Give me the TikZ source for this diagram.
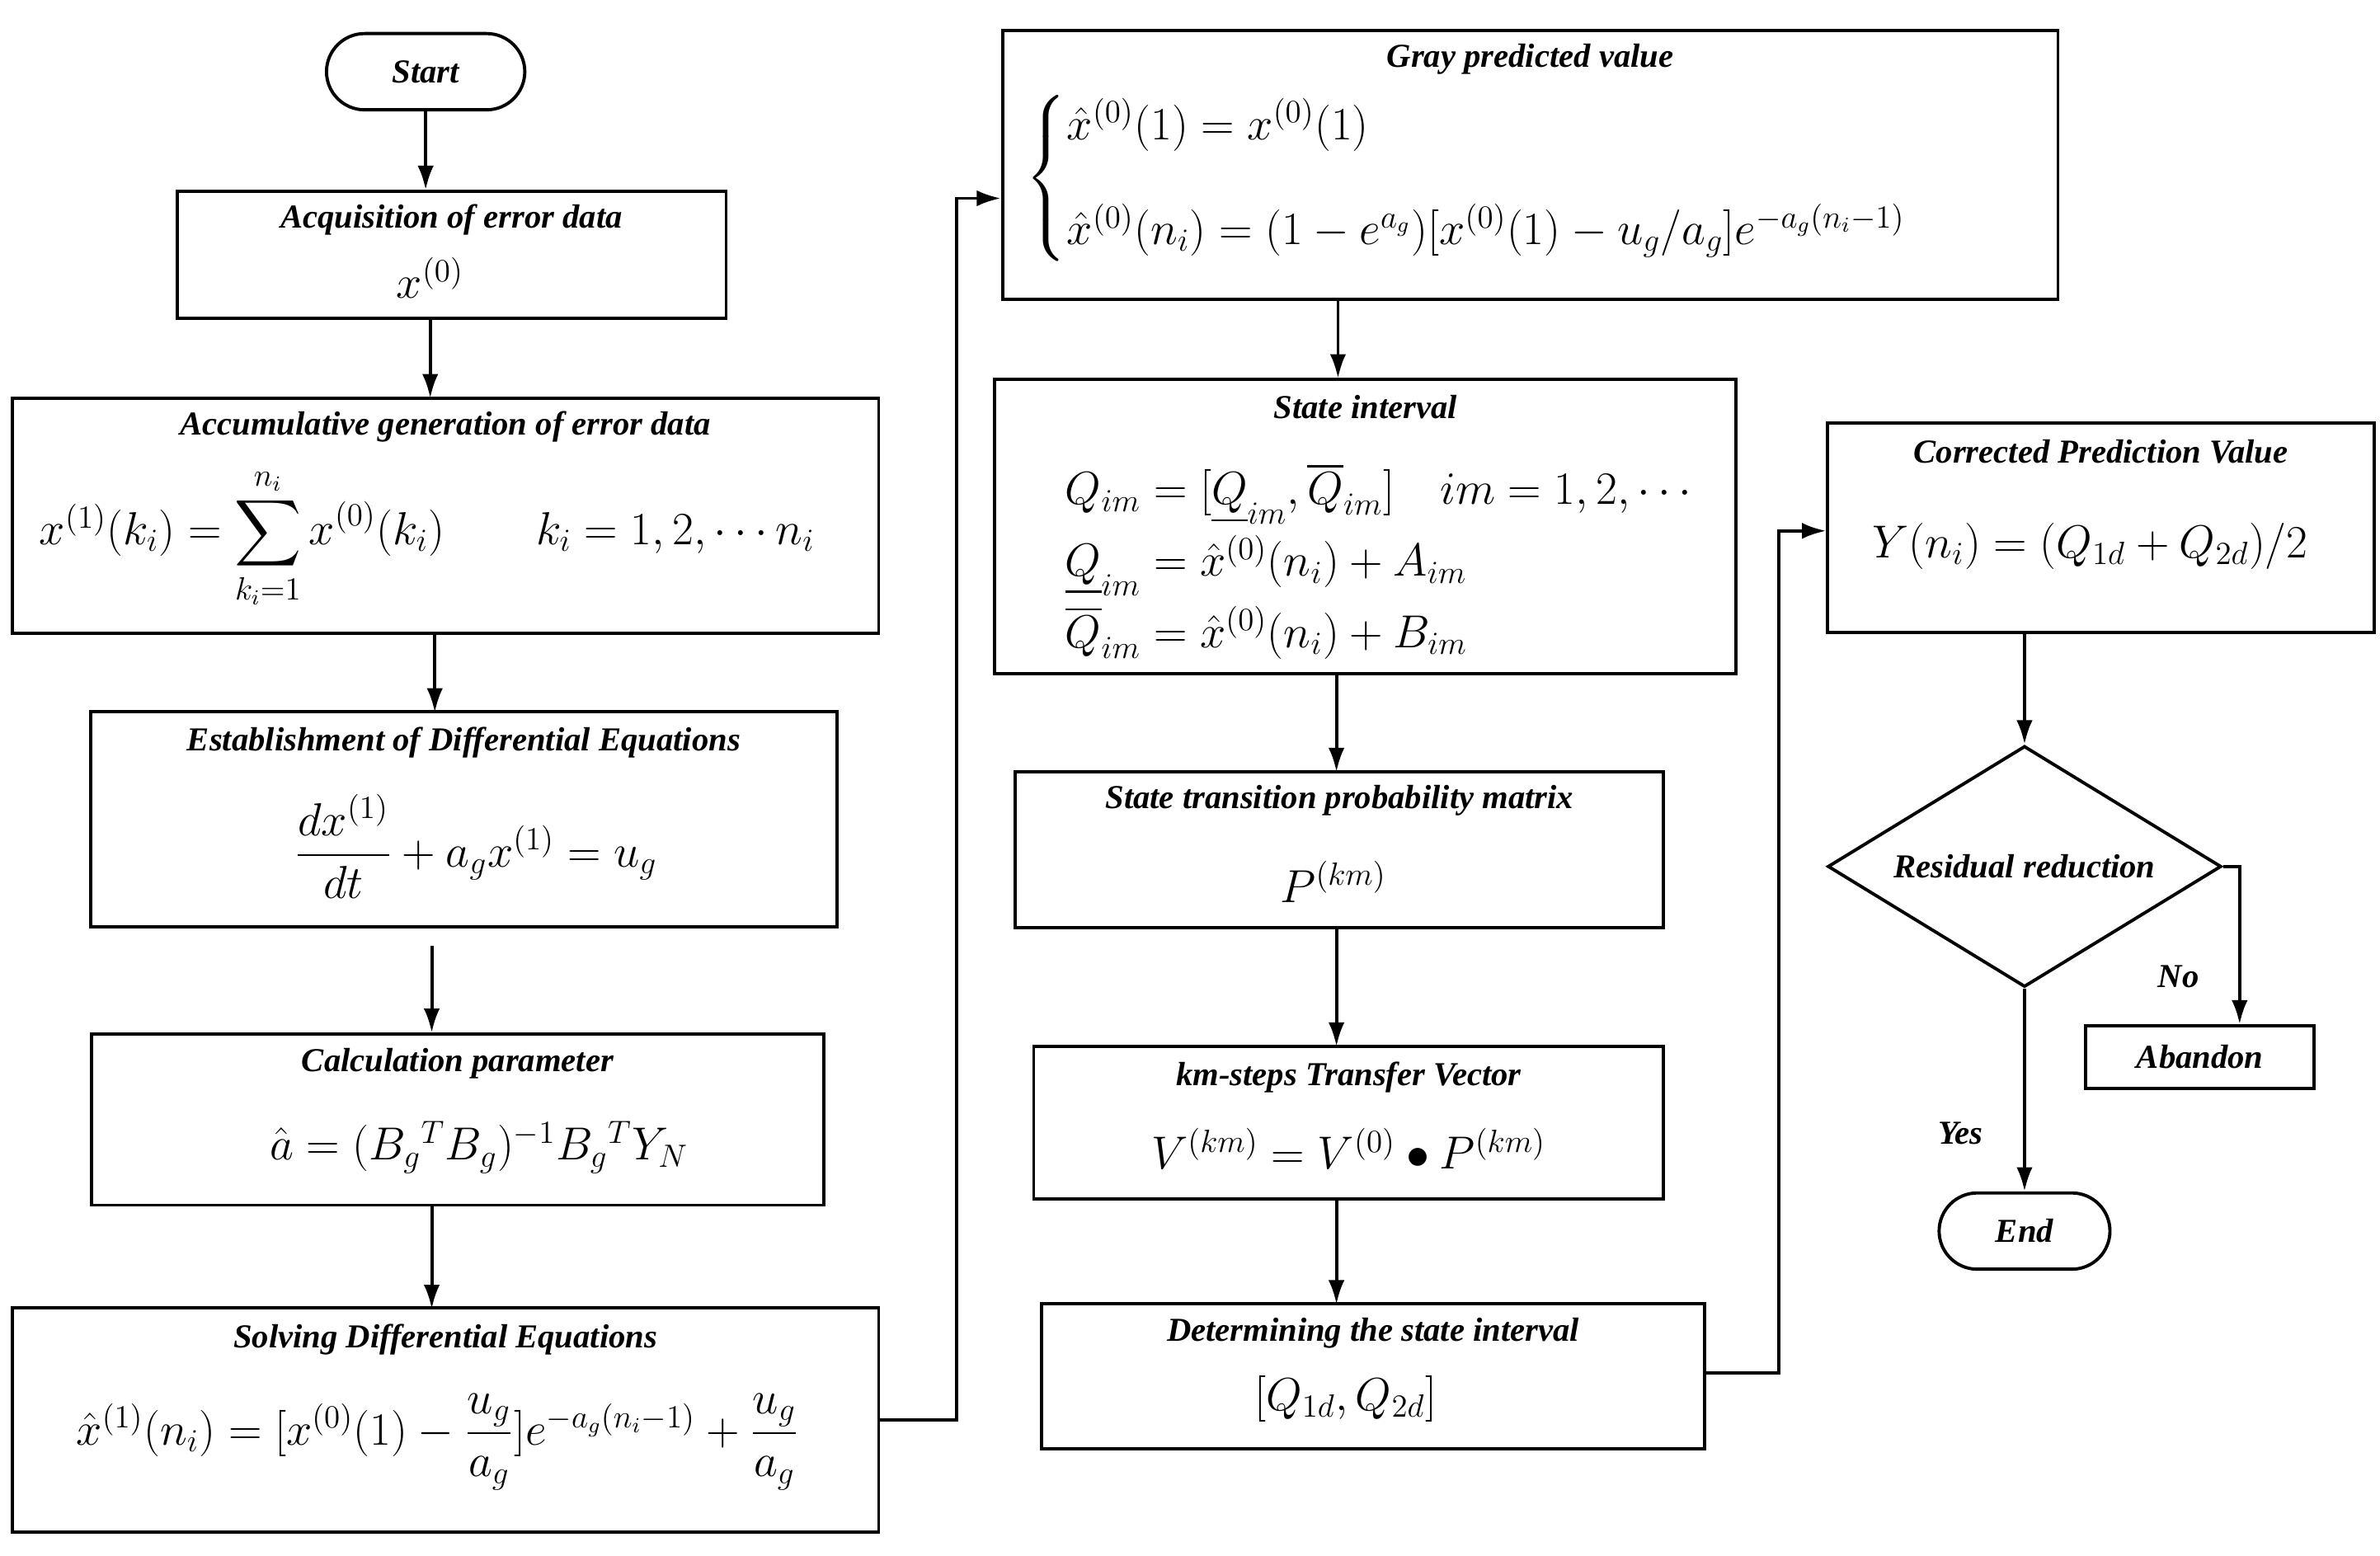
\documentclass[tikz,border=0pt]{standalone}
\usepackage{amsmath}
\usepackage{fontspec}
\setmainfont{Liberation Serif}
\usetikzlibrary{arrows.meta,shapes.geometric}

\begin{document}
\begin{tikzpicture}[x=0.02cm, y=-0.02cm,
  every node/.style={align=center, inner sep=0pt, font=\fontsize{12.5}{15}\selectfont\bfseries\itshape},
  box/.style={draw, line width=1.2pt},
  term/.style={draw, line width=1.2pt, rounded corners=0.5cm},
  mth/.style={font=\fontsize{17}{21}\selectfont},
  link/.style={draw, line width=1.2pt, -{Latex[length=9pt,width=6pt]}}]
\useasboundingbox (0,0) rectangle (1560,1020);

% left column
\node[term, minimum width=2.6cm, minimum height=1cm] (start) at (279,47) {Start};
\node[box, minimum width=7.2cm, minimum height=1.66cm] (acq) at (296,167) {};
\node (acqt) at (296,144) {Acquisition of error data};
\node[mth] (acqm) at (282,182) {$x^{(0)}$};

\node[box, minimum width=11.36cm, minimum height=3.08cm] (acc) at (292,338) {};
\node (acct) at (292,280) {Accumulative generation of error data};
\node[mth] (accm) at (280,353) {$x^{(1)}(k_i)=\displaystyle\sum_{k_i=1}^{n_i}x^{(0)}(k_i)\qquad k_i=1,2,\cdots n_i$};

\node[box, minimum width=9.78cm, minimum height=2.82cm] (est) at (304,537) {};
\node (estt) at (304,487) {Establishment of Differential Equations};
\node[mth] (estm) at (312,555) {$\dfrac{dx^{(1)}}{dt}+a_gx^{(1)}=u_g$};

\node[box, minimum width=9.6cm, minimum height=2.24cm] (cal) at (300,734) {};
\node (calt) at (300,697) {Calculation parameter};
\node[mth] (calm) at (314,752) {$\hat{a}=(B_g{}^TB_g)^{-1}B_g{}^TY_N$};

\node[box, minimum width=11.36cm, minimum height=2.94cm] (sol) at (292,931) {};
\node (solt) at (292,878) {Solving Differential Equations};
\node[mth] (solm) at (287,945) {$\hat{x}^{(1)}(n_i)=[x^{(0)}(1)-\dfrac{u_g}{a_g}]e^{-a_g(n_i-1)}+\dfrac{u_g}{a_g}$};

% middle column
\node[box, minimum width=13.84cm, minimum height=3.52cm] (gray) at (1003,108) {};
\node (grayt) at (1003,39) {Gray predicted value};
\node[mth, anchor=west] (graym) at (672,117) {$\begin{cases}\hat{x}^{(0)}(1)=x^{(0)}(1)\\[14pt]\hat{x}^{(0)}(n_i)=(1-e^{a_g})[x^{(0)}(1)-u_g/a_g]e^{-a_g(n_i-1)}\end{cases}$};

\node[box, minimum width=9.72cm, minimum height=3.86cm] (sta) at (895,345) {};
\node (stat) at (895,267) {State interval};
\node[mth, anchor=west, align=left] (stam) at (698,368) {$Q_{im}=[\underline{Q}_{im},\overline{Q}_{im}]\quad im=1,2,\cdots$\\[3pt]
  $\underline{Q}_{im}=\hat{x}^{(0)}(n_i)+A_{im}$\\[3pt]
  $\overline{Q}_{im}=\hat{x}^{(0)}(n_i)+B_{im}$};

\node[box, minimum width=8.5cm, minimum height=2.04cm] (stp) at (878,557) {};
\node (stpt) at (878,525) {State transition probability matrix};
\node[mth] (stpm) at (874,578) {$P^{(km)}$};

\node[box, minimum width=8.26cm, minimum height=2cm] (km) at (884,736) {};
\node (kmt) at (884,706) {km-steps Transfer Vector};
\node[mth] (kmm) at (884,753) {$V^{(km)}=V^{(0)}\bullet P^{(km)}$};

\node[box, minimum width=8.7cm, minimum height=1.9cm] (det) at (900,902) {};
\node (dett) at (900,874) {Determining the state interval};
\node[mth] (detm) at (882,917) {$[Q_{1d},Q_{2d}]$};

% right column
\node[box, minimum width=7.16cm, minimum height=2.74cm] (cor) at (1377,346) {};
\node (cort) at (1377,296) {Corrected Prediction Value};
\node[mth] (corm) at (1370,358) {$Y(n_i)=(Q_{1d}+Q_{2d})/2$};

\node[draw, line width=1.2pt, diamond, minimum width=5.16cm, minimum height=3.16cm] (res) at (1327,568) {};
\node (rest) at (1327,568) {Residual reduction};
\node[box, minimum width=3cm, minimum height=0.82cm] (aba) at (1442,693) {Abandon};
\node[term, minimum width=2.24cm, minimum height=1cm] (end) at (1327,807) {End};

% connectors
\draw[link] (start.south) -- (start.south|-acq.north);
\draw[link] (acq.south-|282,0) -- (282,261);
\draw[link] (acc.south-|285,0) -- (285,467);
\draw[link] (283,620) -- (cal.north-|283,0);
\draw[link] (cal.south-|283,0) -- (283,858);
\draw[link] (sol.east|-0,931) -- (627,931) -- (627,130) -- (gray.west|-0,130);
\draw[link] (gray.south-|877,0) -- (877,248);
\draw[link] (sta.south-|876,0) -- (876,506);
\draw[link] (stp.south-|876,0) -- (876,686);
\draw[link] (km.south-|876,0) -- (876,855);
\draw[link] (det.east|-0,900) -- (1166,900) -- (1166,348) -- (cor.west|-0,348);
\draw[link] (cor.south-|res.north) -- (res.north);
\draw[link] (res.east) -- (1468,568) -- (aba.north-|1468,0);
\draw[link] (res.south) -- (end.north);
\node (no) at (1428,640) {No};
\node (yes) at (1285,743) {Yes};
\end{tikzpicture}
\end{document}
